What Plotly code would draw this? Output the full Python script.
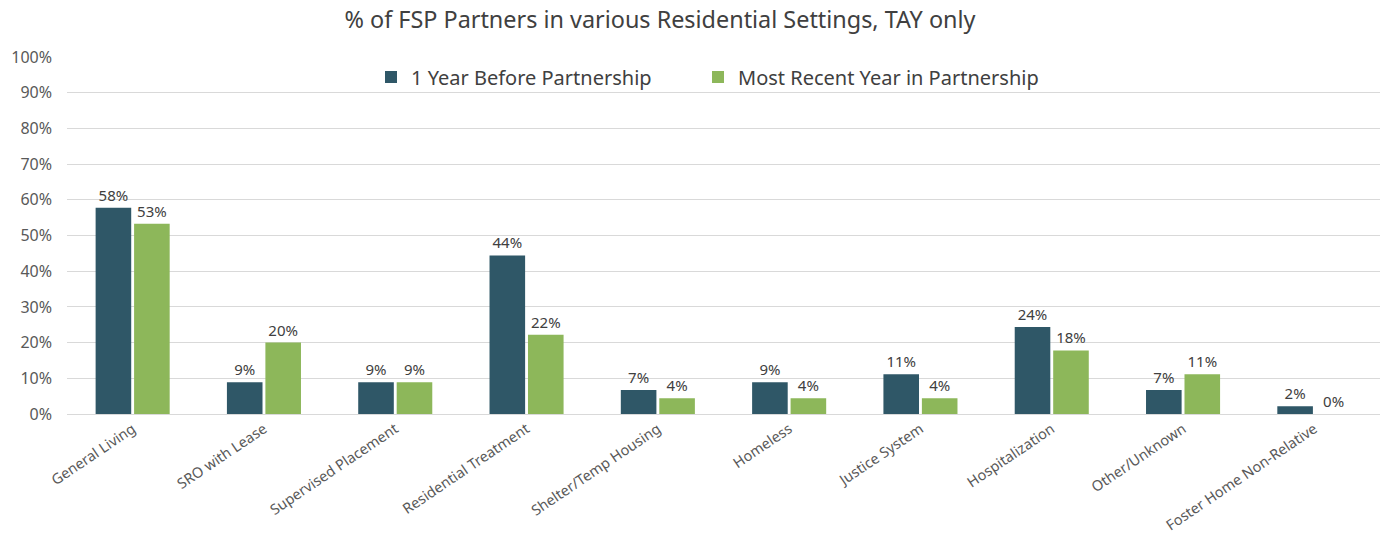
import plotly.graph_objects as go

categories = ["General Living", "SRO with Lease", "Supervised Placement", "Residential Treatment",
              "Shelter/Temp Housing", "Homeless", "Justice System", "Hospitalization",
              "Other/Unknown", "Foster Home Non-Relative"]
before = [57.8, 8.9, 8.9, 44.4, 6.7, 8.9, 11.1, 24.4, 6.7, 2.2]
recent = [53.3, 20.0, 8.9, 22.2, 4.4, 4.4, 4.4, 17.8, 11.1, 0.0]
series_names = ["1 Year Before Partnership", "Most Recent Year in Partnership"]
colors = ["#2F5767", "#8DB75A"]
legends = ["legend", "legend2"]

FONT = "Noto Sans"
fig = go.Figure()
for name, vals, c, lg in zip(series_names, [before, recent], colors, legends):
    fig.add_trace(go.Bar(
        x=categories, y=vals, name=name, marker=dict(color=c, line=dict(width=0)),
        texttemplate="%{y:.0f}%", textposition="outside", cliponaxis=False,
        textfont=dict(size=15, color="#404040", family=FONT), legend=lg,
    ))

leg_common = dict(orientation="h", xanchor="left", y=0.944, yanchor="middle",
                  font=dict(size=20, color="#404040", family=FONT),
                  bgcolor="rgba(0,0,0,0)", itemwidth=30)
fig.update_layout(
    width=1385, height=541,
    margin=dict(l=67, r=5, t=57, b=127, autoexpand=False),
    paper_bgcolor="white", plot_bgcolor="white",
    barmode="group", bargap=0.414, bargroupgap=0.075,
    font=dict(family=FONT, color="#595959"),
    title=dict(text="% of FSP Partners in various Residential Settings, TAY only",
               x=660 / 1385, xanchor="center", y=0.963, yanchor="middle",
               font=dict(size=23.4, color="#404040", family=FONT)),
    legend=dict(x=(371 - 67) / 1313, **leg_common),
    legend2=dict(x=(698 - 67) / 1313, **leg_common),
    showlegend=True,
)
fig.update_yaxes(range=[0, 100], dtick=10, ticksuffix="%", showgrid=True, gridcolor="#D9D9D9",
                 gridwidth=1, zeroline=False, tickfont=dict(size=16, color="#595959", family=FONT),
                 ticks="", showline=False, automargin=False, ticklabelstandoff=14)
fig.update_xaxes(tickangle=-34, tickfont=dict(size=14.5, color="#595959", family=FONT),
                 showline=True, linecolor="#D9D9D9", linewidth=1, ticks="", automargin=False)

fig.write_html("out.html", config={"displayModeBar": False},
               post_script="document.body.style.margin='0';")
